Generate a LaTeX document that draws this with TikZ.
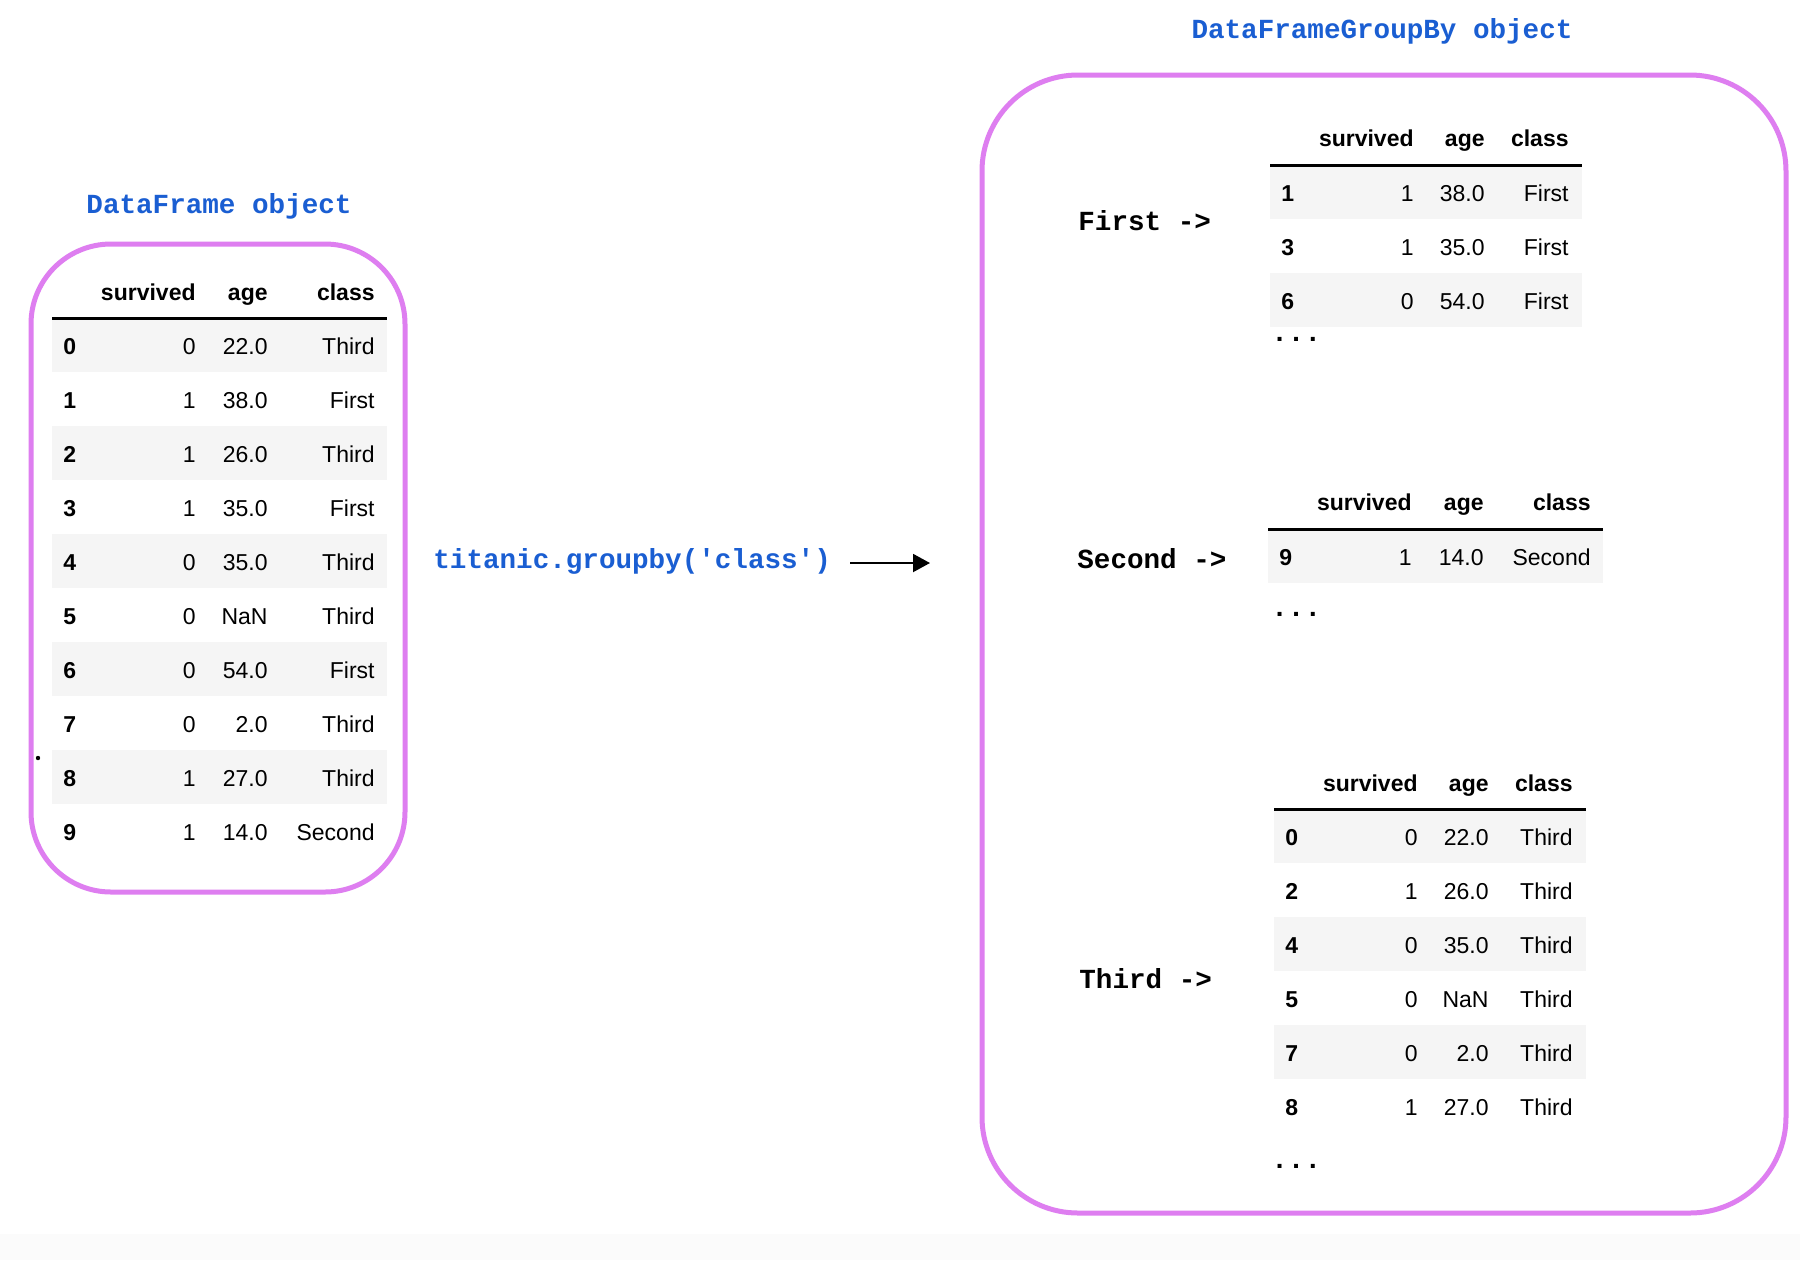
\documentclass[tikz,border=0pt]{standalone}
\usepackage{fontspec}
\setmainfont{Liberation Sans}
\newfontfamily\codefont{Liberation Mono}
\usetikzlibrary{arrows.meta}
\definecolor{codeblue}{RGB}{26,94,210}
\definecolor{boxpink}{RGB}{222,126,240}
\definecolor{rowshade}{RGB}{245,245,245}
\definecolor{bottomband}{RGB}{251,251,251}
\tikzset{
  tbl/.style={inner sep=0pt, font=\fontsize{11.5}{14}\selectfont},
  hd/.style={tbl, anchor=base east, font=\fontsize{11.5}{14}\selectfont\bfseries},
  idx/.style={tbl, anchor=base west, font=\fontsize{11.5}{14}\selectfont\bfseries},
  val/.style={tbl, anchor=base east},
  rule/.style={line width=1.5pt},
  shade/.style={fill=rowshade},
  codetxt/.style={inner sep=0pt, text=codeblue, font=\codefont\bfseries\fontsize{13.8}{16}\selectfont},
  grplabel/.style={inner sep=0pt, anchor=base west, font=\codefont\bfseries\fontsize{13.8}{16}\selectfont},
  dots/.style={inner sep=0pt, anchor=base west, font=\codefont\bfseries\fontsize{13.8}{16}\selectfont},
  objbox/.style={draw=boxpink, line width=2.5pt},
}
\begin{document}
\begin{tikzpicture}[x=0.5pt,y=-0.5pt]
\useasboundingbox (0,0) rectangle (1800,1260);
\fill[white] (0,0) rectangle (1800,1260);
\fill[bottomband] (0,1234) rectangle (1800,1260);

% ---------- titles ----------
\node[codetxt, anchor=base] (dftitle) at (219,213) {DataFrame object};
\node[codetxt, anchor=base] (gbtitle) at (1382,38) {DataFrameGroupBy object};
\node[codetxt, anchor=base west] (code) at (433,568) {titanic.groupby('class')};
\coordinate (arrowstart) at (850,563);
\coordinate (arrowend) at (930,563);
\draw[line width=1pt, -{Triangle[length=8.5pt,width=9pt]}] (arrowstart) -- (arrowend);

% ---------- boxes ----------
\node[objbox, rounded corners=40pt, minimum width=187pt, minimum height=324pt] (leftbox) at (218,568) {};
\node[objbox, rounded corners=48pt, minimum width=402pt, minimum height=569pt] (rightbox) at (1384,644) {};
\fill (38,758) circle (1.1pt);

% ---------- left table ----------
\foreach \n/\i/\s/\a/\c in {0/0/0/22.0/Third,1/1/1/38.0/First,2/2/1/26.0/Third,3/3/1/35.0/First,4/4/0/35.0/Third,5/5/0/NaN/Third,6/6/0/54.0/First,7/7/0/2.0/Third,8/8/1/27.0/Third,9/9/1/14.0/Second}{
  \pgfmathsetmacro\ytop{318+54*\n}
  \pgfmathsetmacro\ybot{318+54*(\n+1)}
  \pgfmathsetmacro\yb{318+36+54*\n}
  \ifodd\n\else\fill[shade] (52,\ytop) rectangle (387,\ybot);\fi
  \node[idx] (L\i) at (63,\yb) {\i};
  \node[val] (L\i s) at (196,\yb) {\s};
  \node[val] (L\i a) at (268,\yb) {\a};
  \node[val] (L\i c) at (375,\yb) {\c};
}
\node[hd] (Lhs) at (196,300) {survived};
\node[hd] (Lha) at (268,300) {age};
\node[hd] (Lhc) at (375,300) {class};
\draw[rule] (52,318) -- (387,318);

% ---------- First group ----------
\node[grplabel] (firstlab) at (1078,230) {First ->};
\foreach \n/\i/\s/\a/\c in {0/1/1/38.0/First,1/3/1/35.0/First,2/6/0/54.0/First}{
  \pgfmathsetmacro\ytop{165+54*\n}
  \pgfmathsetmacro\ybot{165+54*(\n+1)}
  \pgfmathsetmacro\yb{165+36+54*\n}
  \ifodd\n\else\fill[shade] (1270,\ytop) rectangle (1582,\ybot);\fi
  \node[idx] (F\i) at (1281,\yb) {\i};
  \node[val] (F\i s) at (1414,\yb) {\s};
  \node[val] (F\i a) at (1485,\yb) {\a};
  \node[val] (F\i c) at (1569,\yb) {\c};
}
\node[hd] (Fhs) at (1414,146) {survived};
\node[hd] (Fha) at (1485,146) {age};
\node[hd] (Fhc) at (1569,146) {class};
\draw[rule] (1270,165) -- (1582,165);
\node[dots] (Fdots) at (1271,341) {...};

% ---------- Second group ----------
\node[grplabel] (secondlab) at (1077,568) {Second ->};
\fill[shade] (1268,529) rectangle (1603,583);
\node[idx] (S9) at (1279,565) {9};
\node[val] (S9s) at (1412,565) {1};
\node[val] (S9a) at (1484,565) {14.0};
\node[val] (S9c) at (1591,565) {Second};
\node[hd] (Shs) at (1412,510) {survived};
\node[hd] (Sha) at (1484,510) {age};
\node[hd] (Shc) at (1591,510) {class};
\draw[rule] (1268,529) -- (1603,529);
\node[dots] (Sdots) at (1271,616) {...};

% ---------- Third group ----------
\node[grplabel] (thirdlab) at (1079,988) {Third ->};
\foreach \n/\i/\s/\a/\c in {0/0/0/22.0/Third,1/2/1/26.0/Third,2/4/0/35.0/Third,3/5/0/NaN/Third,4/7/0/2.0/Third,5/8/1/27.0/Third}{
  \pgfmathsetmacro\ytop{809+54*\n}
  \pgfmathsetmacro\ybot{809+54*(\n+1)}
  \pgfmathsetmacro\yb{809+36+54*\n}
  \ifodd\n\else\fill[shade] (1274,\ytop) rectangle (1586,\ybot);\fi
  \node[idx] (T\i) at (1285,\yb) {\i};
  \node[val] (T\i s) at (1418,\yb) {\s};
  \node[val] (T\i a) at (1489,\yb) {\a};
  \node[val] (T\i c) at (1573,\yb) {\c};
}
\node[hd] (Ths) at (1418,791) {survived};
\node[hd] (Tha) at (1489,791) {age};
\node[hd] (Thc) at (1573,791) {class};
\draw[rule] (1274,809) -- (1586,809);
\node[dots] (Tdots) at (1271,1168) {...};
\end{tikzpicture}
\end{document}
